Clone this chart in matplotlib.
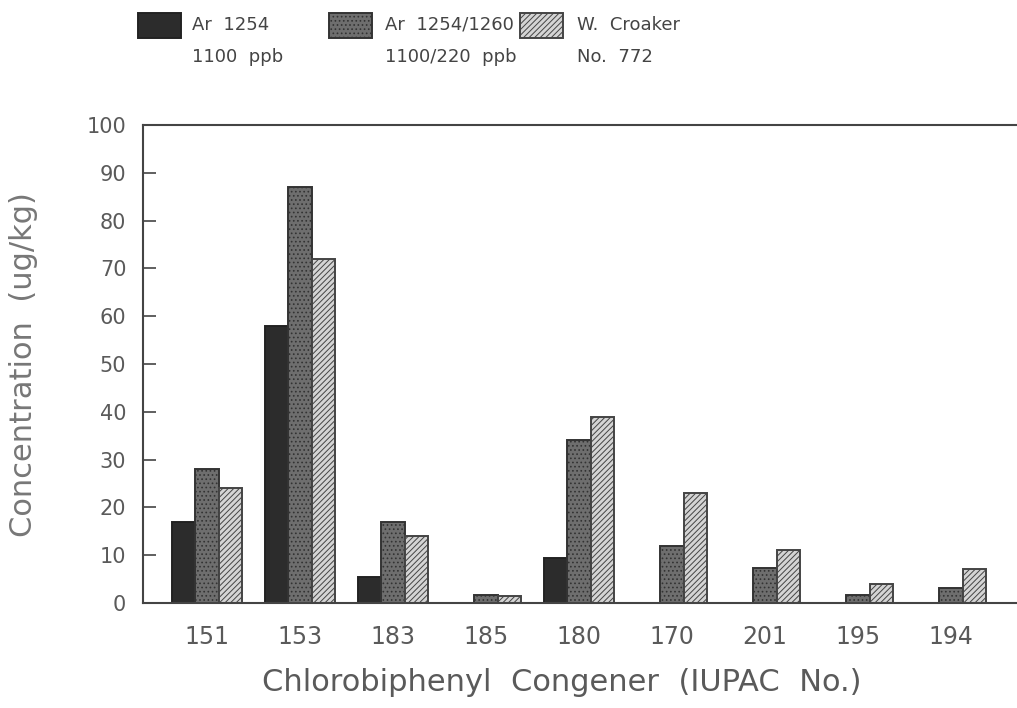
import numpy as np
import matplotlib.pyplot as plt
from matplotlib.patches import Rectangle

congeners = ["151", "153", "183", "185", "180", "170", "201", "195", "194"]
ar1254 = [17, 58, 5.5, 0, 9.5, 0, 0, 0, 0]
ar1254_1260 = [28, 87, 17, 1.6, 34, 12, 7.3, 1.6, 3.2]
croaker = [24, 72, 14, 1.4, 39, 23, 11, 4, 7.2]

series_labels = ["Ar  1254\n1100  ppb", "Ar  1254/1260\n1100/220  ppb", "W.  Croaker\nNo.  772"]

plt.rcParams['hatch.linewidth'] = 0.7
txt = '#5a5a5a'

fig = plt.figure(figsize=(10.17, 7.08), dpi=100)
ax = fig.add_axes([0.1406, 0.1483, 0.8594, 0.6751])

x = np.arange(len(congeners))
w = 0.253
styles = [
    dict(facecolor='#2c2c2c', edgecolor='#222222', hatch=None),
    dict(facecolor='#6e6e6e', edgecolor='#333333', hatch='....'),
    dict(facecolor='#d4d4d4', edgecolor='#444444', hatch='//////'),
]
for i, (vals, st) in enumerate(zip([ar1254, ar1254_1260, croaker], styles)):
    ax.bar(x + (i - 1) * w, vals, width=w, linewidth=1.4, **st)

ax.set_xlim(-0.69, 8.71)
ax.set_ylim(0, 100)
ax.set_yticks(np.arange(0, 101, 10))
ax.set_xticks(x)
ax.set_xticklabels(congeners)
ax.tick_params(axis='y', direction='in', length=9, width=1.2, color='#444444',
               labelsize=15, labelcolor=txt, pad=12)
ax.tick_params(axis='x', length=0, labelsize=17, labelcolor=txt, pad=16)
ax.spines['right'].set_visible(False)
for s in ['left', 'bottom', 'top']:
    ax.spines[s].set_linewidth(1.5)
    ax.spines[s].set_color('#444444')

ax.set_xlabel("Chlorobiphenyl  Congener  (IUPAC  No.)", fontsize=22, color=txt, va='center')
ax.xaxis.set_label_coords(0.479, -0.167)
ax.set_ylabel("Concentration  (ug/kg)", fontsize=22, color='#777777', va='center')
ax.yaxis.set_label_coords(-0.137, 0.498)

# legend along the top
leg_x = [0.1357, 0.3235, 0.5113]
txt_x = [0.1888, 0.3786, 0.5674]
for lx, tx, st, lab in zip(leg_x, txt_x, styles, series_labels):
    fig.add_artist(Rectangle((lx, 0.9463), 0.0423, 0.0353, transform=fig.transFigure,
                             linewidth=1.4, **st))
    l1, l2 = lab.split("\n")
    fig.text(tx, 0.9647, l1, fontsize=13, color='#444444', va='center')
    fig.text(tx, 0.9195, l2, fontsize=13, color='#444444', va='center')

fig.savefig("out.png", dpi=100)
